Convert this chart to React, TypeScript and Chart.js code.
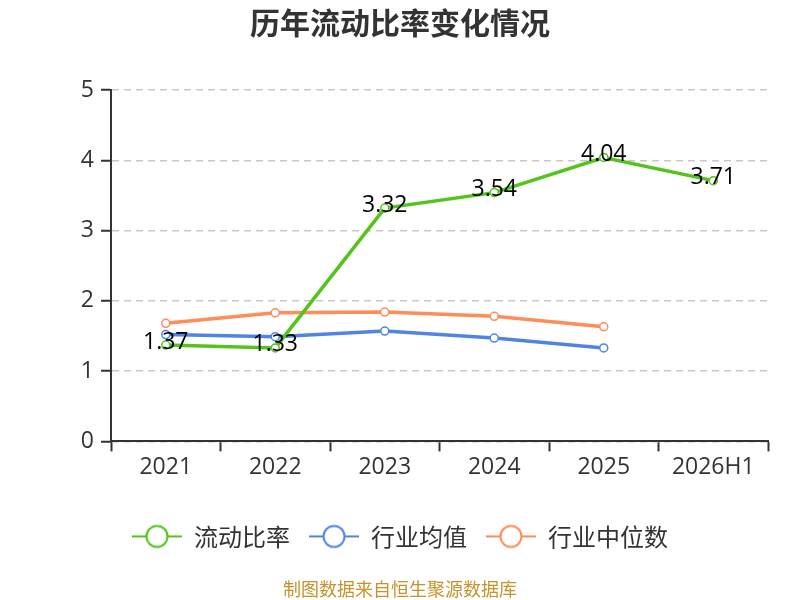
import React, { useEffect, useRef } from 'react';
import { Chart, registerables } from 'chart.js';

Chart.register(...registerables);

const years = ['2021', '2022', '2023', '2024', '2025', '2026H1'];
const currentRatio = [1.37, 1.33, 3.32, 3.54, 4.04, 3.71];
const industryMean = [1.52, 1.49, 1.57, 1.47, 1.33, null];
const industryMedian = [1.68, 1.83, 1.84, 1.78, 1.63, null];
const yTicks = [0, 1, 2, 3, 4, 5];

const GREEN = '#52c41a';
const BLUE = '#4f84e6';
const ORANGE = '#ff8c59';
const FONT = '"Open Sans", "Noto Sans CJK SC", sans-serif';
const CJK = '"Noto Sans CJK SC", sans-serif';

// legend marker: short line with a hollow circle
function legendMarker(color: string) {
  const c = document.createElement('canvas');
  c.width = 50;
  c.height = 26;
  const g = c.getContext('2d')!;
  g.strokeStyle = color;
  g.lineWidth = 2;
  g.beginPath();
  g.moveTo(0, 13);
  g.lineTo(50, 13);
  g.stroke();
  g.beginPath();
  g.arc(25, 13, 10.5, 0, Math.PI * 2);
  g.fillStyle = '#fff';
  g.fill();
  g.stroke();
  return c;
}

const valueLabels = {
  id: 'valueLabels',
  afterDatasetsDraw(chart: any) {
    const { ctx } = chart;
    const meta = chart.getDatasetMeta(0);
    ctx.save();
    ctx.font = `23px ${FONT}`;
    ctx.fillStyle = '#000';
    ctx.textAlign = 'center';
    ctx.textBaseline = 'middle';
    meta.data.forEach((pt: any, i: number) => {
      ctx.fillText(currentRatio[i].toFixed(2), pt.x, pt.y - 3);
    });
    ctx.restore();
  },
};

export default function App() {
  const canvasRef = useRef<HTMLCanvasElement>(null);

  useEffect(() => {
    document.body.style.margin = '0';
    if (!canvasRef.current) return;

    const series = [
      { label: '流动比率', data: currentRatio, color: GREEN },
      { label: '行业均值', data: industryMean, color: BLUE },
      { label: '行业中位数', data: industryMedian, color: ORANGE },
    ];
    const markers = series.map((s) => legendMarker(s.color));

    const chart = new Chart(canvasRef.current, {
      type: 'line',
      data: {
        labels: years,
        datasets: series.map((s) => ({
          label: s.label,
          data: s.data,
          borderColor: s.color,
          backgroundColor: '#fff',
          borderWidth: 3.5,
          pointRadius: 4,
          pointBorderWidth: 1.5,
          pointBackgroundColor: '#fff',
          pointBorderColor: s.color,
          pointStyle: 'circle',
          tension: 0,
        })),
      },
      options: {
        responsive: false,
        animation: false,
        layout: { padding: { left: 32, right: 32, top: 0, bottom: 0 } },
        scales: {
          x: {
            offset: true,
            grid: {
              offset: true,
              drawOnChartArea: false,
              drawTicks: true,
              tickLength: 10,
              tickWidth: 2,
              tickColor: '#333',
            },
            border: { color: '#333', width: 2 },
            ticks: { color: '#333', font: { size: 23, family: FONT }, padding: 2 },
            afterFit: (s: any) => {
              s.height = 64;
            },
          },
          y: {
            min: 0,
            max: 5,
            afterBuildTicks: (s: any) => {
              s.ticks = yTicks.map((v) => ({ value: v }));
            },
            grid: {
              color: '#c8c8c8',
              lineWidth: 1.5,
              tickLength: 10,
              tickWidth: 2,
              tickColor: '#333',
            },
            border: { color: '#333', width: 2, dash: [7, 5] },
            ticks: { color: '#333', font: { size: 23, family: FONT }, padding: 7 },
            afterFit: (s: any) => {
              s.width = 79;
            },
          },
        },
        plugins: {
          title: {
            display: true,
            text: '历年流动比率变化情况',
            color: '#333',
            font: { size: 30, weight: 'bold', family: CJK },
            padding: { top: 5, bottom: 49 },
          },
          subtitle: {
            display: true,
            position: 'bottom',
            text: '制图数据来自恒生聚源数据库',
            color: '#c8922a',
            font: { size: 18, family: CJK },
            padding: { top: 20, bottom: 0 },
          },
          legend: {
            position: 'bottom',
            labels: {
              usePointStyle: true,
              pointStyleWidth: 50,
              color: '#333',
              font: { size: 24, family: CJK },
              padding: 19,
              generateLabels: (c: any) =>
                Chart.defaults.plugins.legend.labels
                  .generateLabels(c)
                  .map((item: any, i: number) => ({ ...item, pointStyle: markers[i] })),
            },
          },
          tooltip: { enabled: false },
        },
      },
      plugins: [valueLabels],
    });

    return () => chart.destroy();
  }, []);

  return (
    <div style={{ width: 800, height: 600 }}>
      <canvas ref={canvasRef} width={800} height={600} />
    </div>
  );
}
